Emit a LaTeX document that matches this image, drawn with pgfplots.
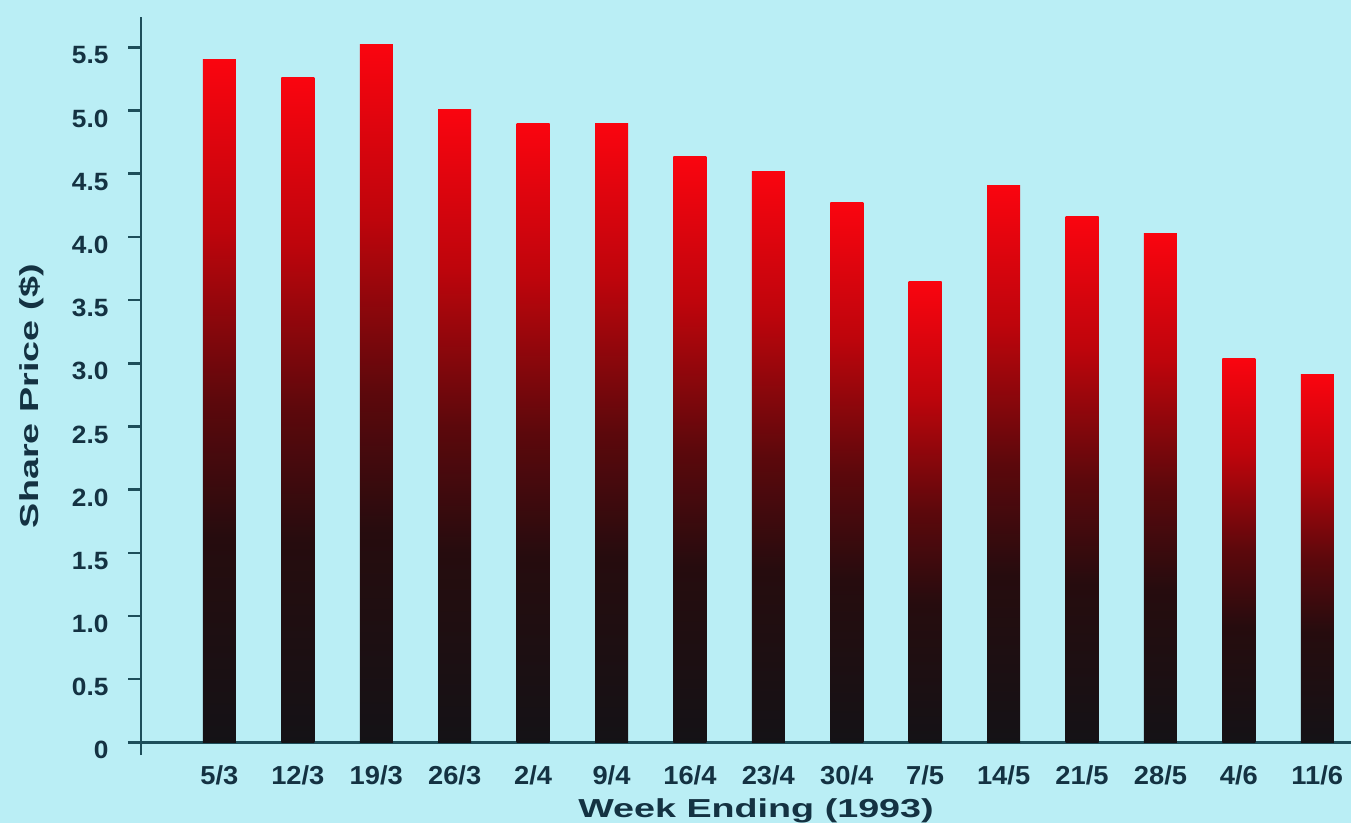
\documentclass[border=0pt]{standalone}
\usepackage{pgfplots}
\pgfplotsset{compat=1.18}
\usepackage{fontspec}
\setmainfont{Liberation Sans}
\newfontfamily\tickfont{Liberation Sans Bold}[FakeStretch=1.05]
\newfontfamily\titlefont{Liberation Sans Bold}[FakeStretch=1.45]
\usetikzlibrary{backgrounds}
\definecolor{bg}{RGB}{186,238,245}
\definecolor{axcol}{RGB}{30,78,90}
\definecolor{txt}{RGB}{20,50,66}
\definecolor{topred}{RGB}{250,5,15}
\definecolor{upred}{RGB}{190,5,12}
\definecolor{midred}{RGB}{92,8,12}
\definecolor{lowred}{RGB}{38,12,14}
\definecolor{botblk}{RGB}{20,18,22}
\pgfdeclareverticalshading{barshade}{100bp}{color(0bp)=(botblk); color(25bp)=(botblk); color(40bp)=(lowred); color(50bp)=(midred); color(62.5bp)=(upred); color(75bp)=(topred); color(100bp)=(topred)}
\pgfplotsset{sharebar/.style={ybar, bar shift=0pt, bar width=33pt, draw=none, shade, shading=barshade}}
\begin{document}
\begin{tikzpicture}
\begin{axis}[
  name=ax,
  at={(0,0)}, anchor=south west,
  scale only axis,
  width=1210pt, height=738pt,
  xmin=-1, xmax=14.43,
  ymin=-0.1, ymax=5.74,
  axis y line=left, axis x line=middle,
  axis line style={-, draw=axcol, line width=2.6pt},
  xtick={0,...,14},
  xticklabels={5/3,12/3,19/3,26/3,2/4,9/4,16/4,23/4,30/4,7/5,14/5,21/5,28/5,4/6,11/6},
  major x tick style={draw=none},
  xticklabel style={font=\tickfont\fontsize{26}{26}\selectfont, text=txt, anchor=north, yshift=-7pt},
  ytick={0,0.5,1,1.5,2,2.5,3,3.5,4,4.5,5,5.5},
  yticklabels={0,0.5,1.0,1.5,2.0,2.5,3.0,3.5,4.0,4.5,5.0,5.5},
  yticklabel style={font=\tickfont\fontsize{25}{25}\selectfont, text=txt, anchor=east, xshift=-16pt, yshift=-8pt},
  tick align=outside,
  major y tick style={draw=axcol, line width=2.6pt},
  major tick length=13pt,
  clip=false,
]
\addplot[sharebar] coordinates {(0,5.40)};
\addplot[sharebar] coordinates {(1,5.26)};
\addplot[sharebar] coordinates {(2,5.52)};
\addplot[sharebar] coordinates {(3,5.01)};
\addplot[sharebar] coordinates {(4,4.90)};
\addplot[sharebar] coordinates {(5,4.90)};
\addplot[sharebar] coordinates {(6,4.64)};
\addplot[sharebar] coordinates {(7,4.52)};
\addplot[sharebar] coordinates {(8,4.27)};
\addplot[sharebar] coordinates {(9,3.65)};
\addplot[sharebar] coordinates {(10,4.41)};
\addplot[sharebar] coordinates {(11,4.16)};
\addplot[sharebar] coordinates {(12,4.03)};
\addplot[sharebar] coordinates {(13,3.04)};
\addplot[sharebar] coordinates {(14,2.91)};
\end{axis}
\draw[axcol, line width=2.6pt] (-13pt,12.6pt) -- (0,12.6pt);
\node[text=txt, font=\titlefont\fontsize{26}{26}\selectfont, anchor=center] at (615pt,-56pt) {Week Ending (1993)};
\node[text=txt, font=\titlefont\fontsize{26}{26}\selectfont, rotate=90, anchor=center] at (-109pt,359pt) {Share Price (\$)};
\begin{scope}[on background layer]
\fill[bg] (-141pt,-68pt) rectangle (1210pt,755pt);
\end{scope}
\pgfresetboundingbox
\useasboundingbox (-141pt,-68pt) rectangle (1210pt,755pt);
\end{tikzpicture}
\end{document}
